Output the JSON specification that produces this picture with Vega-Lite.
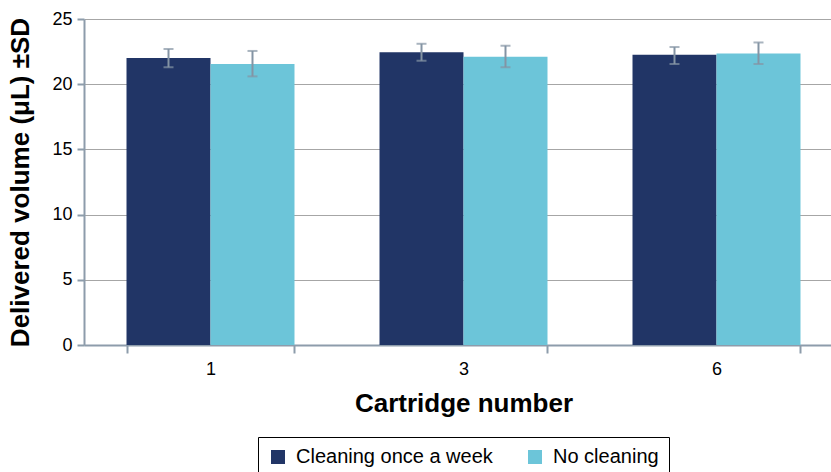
{
  "$schema": "https://vega.github.io/schema/vega-lite/v6.json",
  "width": 745,
  "height": 326,
  "autosize": {"type": "none"},
  "padding": {"left": 84, "top": 19, "right": 2, "bottom": 127},
  "config": {
    "font": "Liberation Sans",
    "view": {"stroke": null},
    "axis": {"labelFont": "Liberation Sans", "titleFont": "Liberation Sans"}
  },
  "data": {
    "values": [
      {"cartridge": "1", "group": "Cleaning once a week", "mean": 22.0, "lo": 21.3, "hi": 22.7},
      {"cartridge": "1", "group": "No cleaning", "mean": 21.55, "lo": 20.6, "hi": 22.55},
      {"cartridge": "3", "group": "Cleaning once a week", "mean": 22.45, "lo": 21.8, "hi": 23.1},
      {"cartridge": "3", "group": "No cleaning", "mean": 22.1, "lo": 21.3, "hi": 22.95},
      {"cartridge": "6", "group": "Cleaning once a week", "mean": 22.25, "lo": 21.55, "hi": 22.85},
      {"cartridge": "6", "group": "No cleaning", "mean": 22.35, "lo": 21.55, "hi": 23.2}
    ]
  },
  "encoding": {
    "x": {
      "field": "cartridge",
      "type": "nominal",
      "scale": {"range": [0, 759], "paddingInner": 0.336, "paddingOuter": 0.168},
      "axis": {
        "title": "Cartridge number",
        "titleFontSize": 26,
        "titleFontWeight": "bold",
        "titleColor": "#000",
        "titlePadding": 12,
        "labelFontSize": 18,
        "labelColor": "#000",
        "labelAngle": 0,
        "labelPadding": 7,
        "tickBand": "extent",
        "tickSize": 8,
        "tickWidth": 2,
        "tickColor": "#8d9cab",
        "domainColor": "#8d9cab",
        "domainWidth": 2,
        "grid": false
      }
    },
    "xOffset": {"field": "group", "type": "nominal", "scale": {"paddingInner": 0, "paddingOuter": 0}}
  },
  "layer": [
    {
      "mark": {"type": "bar"},
      "encoding": {
        "y": {
          "field": "mean",
          "type": "quantitative",
          "scale": {"domain": [0, 25], "nice": false},
          "axis": {
            "title": "Delivered volume (μL) ±SD",
            "titleFontSize": 26,
            "titleFontWeight": "bold",
            "titleColor": "#000",
            "titlePadding": 18,
            "values": [0, 5, 10, 15, 20, 25],
            "labelFontSize": 18,
            "labelColor": "#000",
            "labelPadding": 5,
            "tickSize": 7,
            "tickWidth": 2,
            "tickColor": "#8d9cab",
            "domainColor": "#8d9cab",
            "domainWidth": 2,
            "gridColor": "#a6a6a6",
            "gridWidth": 1
          }
        },
        "color": {
          "field": "group",
          "type": "nominal",
          "scale": {"domain": ["Cleaning once a week", "No cleaning"], "range": ["#213566", "#6cc5d9"]},
          "legend": {
            "title": null,
            "orient": "none",
            "direction": "horizontal",
            "legendX": 174,
            "legendY": 418,
            "symbolType": "square",
            "symbolSize": 196,
            "symbolStrokeWidth": 0,
            "labelFontSize": 20,
            "labelLimit": 0,
            "labelColor": "#000",
            "labelOffset": 8,
            "columnPadding": 32,
            "padding": 10,
            "strokeColor": "#000"
          }
        }
      }
    },
    {
      "mark": {"type": "rule", "color": "#8494a4", "strokeWidth": 2},
      "encoding": {
        "y": {"field": "lo", "type": "quantitative"},
        "y2": {"field": "hi"}
      }
    },
    {
      "mark": {"type": "tick", "color": "#8494a4", "size": 10, "thickness": 2},
      "encoding": {
        "y": {"field": "lo", "type": "quantitative"}
      }
    },
    {
      "mark": {"type": "tick", "color": "#8494a4", "size": 10, "thickness": 2},
      "encoding": {
        "y": {"field": "hi", "type": "quantitative"}
      }
    }
  ]
}
